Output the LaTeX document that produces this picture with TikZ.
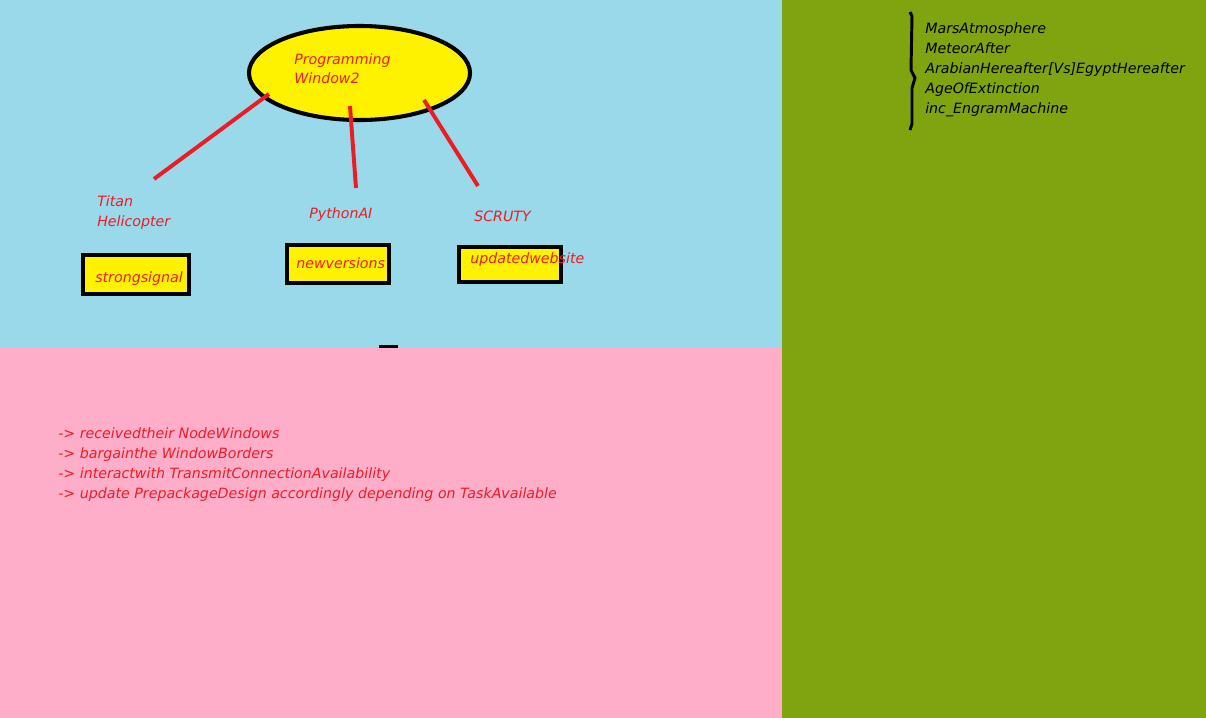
\documentclass[tikz,border=0pt]{standalone}
\usepackage{fontspec}
\setmainfont{DejaVu Sans}
\usetikzlibrary{shapes.geometric}

\definecolor{skyblue}{RGB}{153,217,234}
\definecolor{softpink}{RGB}{255,174,201}
\definecolor{olivegreen}{RGB}{128,164,16}
\definecolor{paintyellow}{RGB}{255,242,0}
\definecolor{paintred}{RGB}{237,28,36}

\tikzset{
  redlabel/.style={text=paintred, font=\itshape\fontsize{10.1}{14.2}\selectfont, inner sep=0pt, anchor=base west, align=left},
  blacklabel/.style={redlabel, text=black},
  taskbox/.style={draw=black, line width=3.5pt, fill=paintyellow},
  redlink/.style={draw=paintred, line width=2.8pt}
}

\begin{document}
\begin{tikzpicture}[x=0.025cm,y=-0.025cm]
    % Hintergrund
    \fill[skyblue] (0,0) rectangle (782,347);
    \fill[softpink] (0,347) rectangle (782,718);
    \fill[olivegreen] (782,0) rectangle (1206,718);
    \fill[black] (379,345) rectangle (398,348);

    % Ellipse
    \node[ellipse, draw=black, line width=2.9pt, fill=paintyellow,
          minimum width=5.525cm, minimum height=2.35cm, inner sep=0pt]
          (window) at (359.5,73) {};
    % (Basis = letzte Zeile)
    \node[redlabel] (windowtext) at (294,83) {Programming\\[-0.75pt]Window2};

    % Linien
    \coordinate (titanend) at (154,179);
    \coordinate (pythonend) at (356,188);
    \coordinate (scrutyend) at (478,186);
    \draw[redlink] (269,94) -- (titanend);
    \draw[redlink] (350,106) -- (pythonend);
    \draw[redlink] (424,100) -- (scrutyend);

    % Beschriftungen
    \node[redlabel] (titan) at (97,226) {Titan\\[-0.3pt]Helicopter};
    \node[redlabel] (python) at (309,218) {PythonAI};
    \node[redlabel] (scruty) at (474,221) {SCRUTY};

    % Kästen
    \draw[taskbox] (83,255) rectangle (189,294);
    \node[redlabel] (strong) at (95,282) {strongsignal};
    \draw[taskbox] (287,245) rectangle (389,283);
    \node[redlabel] (newver) at (296,268) {newversions};
    \draw[taskbox] (459,247) rectangle (561,282);
    \node[redlabel] (updweb) at (470,263) {updatedwebsite};

    % Liste unten
    \node[redlabel] (steps) at (58,498) {-> receivedtheir NodeWindows\\
      -> bargainthe WindowBorders\\
      -> interactwith TransmitConnectionAvailability\\
      -> update PrepackageDesign accordingly depending on TaskAvailable};

    % Klammer rechts
    \draw[black, line width=2.1pt] (910,12) -- (912,16) -- (911,70) -- (915,78)
      -- (912,88) -- (912,124) -- (910,130);
    \node[blacklabel] (titles) at (925,113) {MarsAtmosphere\\
      MeteorAfter\\
      ArabianHereafter[Vs]EgyptHereafter\\
      AgeOfExtinction\\
      inc\_EngramMachine};
\end{tikzpicture}
\end{document}
